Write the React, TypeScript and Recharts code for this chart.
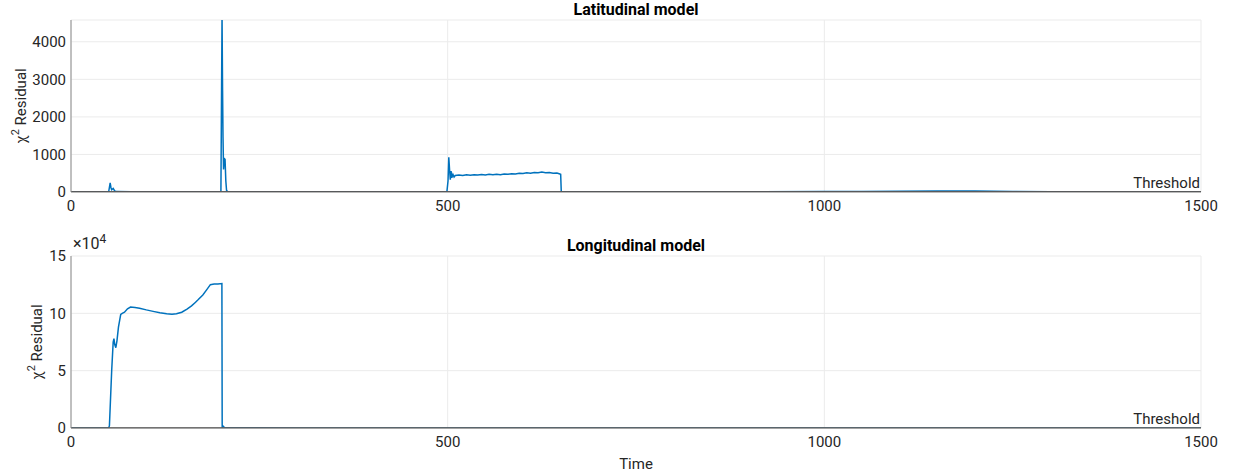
import React from "react";
import {
    LineChart, Line, XAxis, YAxis, CartesianGrid, ReferenceLine,
} from "recharts";

// Latitudinal model residual (time, chi^2)
const latTime = [
    0, 20, 40, 50, 52, 53, 54, 56, 58, 60, 80, 100, 130, 160, 190, 199,
    200.5, 201.2, 201.8, 202.5, 203.5, 204.5, 205.5, 206.5, 208,
    250, 300, 350, 400, 450, 499,
    500.5, 501.5, 502.5, 503.5, 504.5, 505.5, 507, 508.5,
    510, 515, 520, 525, 530, 535, 540, 545, 550, 555, 560, 565, 570, 575,
    580, 585, 590, 595, 600, 605, 610, 615, 620, 625, 630, 635, 640, 645, 648, 650,
    650.8, 700, 800, 900, 1000, 1050, 1100, 1150, 1200, 1250, 1300, 1400, 1500,
];
const latValue = [
    5, 8, 4, 6, 240, 120, 60, 95, 30, 10, 6, 9, 5, 8, 6, 10,
    4700, 2700, 1450, 600, 890, 870, 300, 40, 10,
    7, 5, 8, 6, 7, 9,
    300, 925, 600, 330, 560, 380, 470, 400,
    440, 455, 438, 460, 447, 462, 450, 468, 452, 470, 458, 475, 462, 480,
    470, 488, 478, 498, 490, 510, 500, 522, 512, 530, 515, 522, 502, 505, 485, 470,
    5, 8, 6, 9, 12, 15, 22, 28, 25, 15, 8, 6, 5,
];
const latThreshold = 12;
const latTicksY = [0, 1000, 2000, 3000, 4000];

// Longitudinal model residual (time, chi^2 / 1e4)
const lonTime = [
    0, 50, 51, 54, 56, 57, 58, 59.5, 61, 63, 66, 68, 71, 75, 79, 85, 91,
    100, 109, 118, 127, 134, 140, 147, 154, 160, 165, 169, 175, 180, 185,
    190, 195, 200.3, 200.7, 202, 204, 300, 1500,
];
const lonValue = [
    0, 0, 0.2, 5, 7.5, 7.8, 7.3, 7.0, 7.6, 8.8, 9.9, 10.0, 10.1, 10.4, 10.55, 10.5, 10.45,
    10.3, 10.17, 10.05, 9.97, 9.93, 9.96, 10.1, 10.37, 10.65, 10.95, 11.2, 11.6, 12.05, 12.5,
    12.55, 12.55, 12.6, 0, 0.15, 0.02, 0, 0,
];
const lonThreshold = 0.02;
const lonTicksY = [0, 5, 10, 15];

const timeTicks = [0, 500, 1000, 1500];

const latData = latTime.map((t, i) => ({ t, v: latValue[i] }));
const lonData = lonTime.map((t, i) => ({ t, v: lonValue[i] }));

const FONT = "Roboto, 'Noto Sans', sans-serif";
const TXT = "#262626";
const BOX = "#8a8a8a";
const tick = { fill: TXT, fontSize: 15, fontFamily: FONT };

const YLabel = ({ viewBox, off }: any) => {
    const cx = viewBox.x + off;
    const cy = viewBox.y + viewBox.height / 2;
    return (
        <text transform={`rotate(-90 ${cx} ${cy})`} x={cx} y={cy + 5} textAnchor="middle"
              fill={TXT} fontSize={15} fontFamily={FONT}>
            χ<tspan dy={-7} fontSize={11}>2</tspan><tspan dy={7}> Residual</tspan>
        </text>
    );
};

const ThresholdLabel = ({ viewBox }: any) => (
    <text x={viewBox.x + viewBox.width - 1} y={viewBox.y - 4} textAnchor="end"
          fill={TXT} fontSize={15} fontFamily={FONT}>Threshold</text>
);

const Title: React.FC<{ top: number; text: string }> = ({ top, text }) => (
    <div style={{
        position: "absolute", left: 71, width: 1130, top, textAlign: "center",
        fontFamily: FONT, fontWeight: 700, fontSize: 16, lineHeight: "18px", color: "#000",
    }}>{text}</div>
);

const Panel: React.FC<{
    data: { t: number; v: number }[]; top: number; height: number; marginTop: number;
    xHeight: number; domain: [number, number]; ticksY: number[]; threshold: number;
    labelOff: number; xLabel?: string;
}> = ({ data, top, height, marginTop, xHeight, domain, ticksY, threshold, labelOff, xLabel }) => (
    <div style={{ position: "absolute", left: 0, top }}>
        <LineChart width={1233} height={height} data={data}
                   margin={{ top: marginTop, right: 32, bottom: 0, left: 0 }}>
            <CartesianGrid stroke="#ebebeb" />
            <XAxis dataKey="t" type="number" domain={[0, 1500]} ticks={timeTicks} height={xHeight}
                   stroke={BOX} tickLine={false} tickSize={0} tickMargin={8} tick={tick}
                   label={xLabel ? { value: xLabel, position: "insideBottom", offset: 5, fill: TXT, fontSize: 15, fontFamily: FONT } : undefined} />
            <XAxis xAxisId="top" orientation="top" type="number" domain={[0, 1500]} height={0}
                   stroke={BOX} tick={false} tickLine={false} />
            <YAxis type="number" domain={domain} ticks={ticksY} allowDataOverflow width={71}
                   stroke={BOX} tickLine={false} tickSize={0} tickMargin={5} tick={tick}
                   label={{ content: (p: any) => <YLabel viewBox={p.viewBox} off={labelOff} /> }} />
            <YAxis yAxisId="right" orientation="right" width={0} stroke={BOX} tick={false} tickLine={false} />
            <Line type="linear" dataKey="v" stroke="#0072BD" strokeWidth={1.5} dot={false}
                  isAnimationActive={false} />
            <ReferenceLine y={threshold} stroke="#262626" strokeWidth={1}
                           label={{ content: (p: any) => <ThresholdLabel viewBox={p.viewBox} /> }} />
        </LineChart>
    </div>
);

export default function App() {
    return (
        <div style={{ position: "absolute", left: 0, top: 0, width: 1233, height: 474, background: "#fff" }}>
            <Panel data={latData} top={0} height={230} marginTop={20} xHeight={38}
                   domain={[0, 4580]} ticksY={latTicksY} threshold={latThreshold} labelOff={21} />
            <Panel data={lonData} top={230} height={244} marginTop={26} xHeight={46}
                   domain={[0, 15]} ticksY={lonTicksY} threshold={lonThreshold} labelOff={37} xLabel="Time" />
            <Title top={1} text="Latitudinal model" />
            <Title top={237} text="Longitudinal model" />
            <div style={{ position: "absolute", left: 73, top: 236, fontFamily: FONT, fontSize: 16, color: TXT, lineHeight: "16px" }}>
                ×10<sup style={{ fontSize: 12, verticalAlign: "6px", lineHeight: 0 }}>4</sup>
            </div>
        </div>
    );
}
